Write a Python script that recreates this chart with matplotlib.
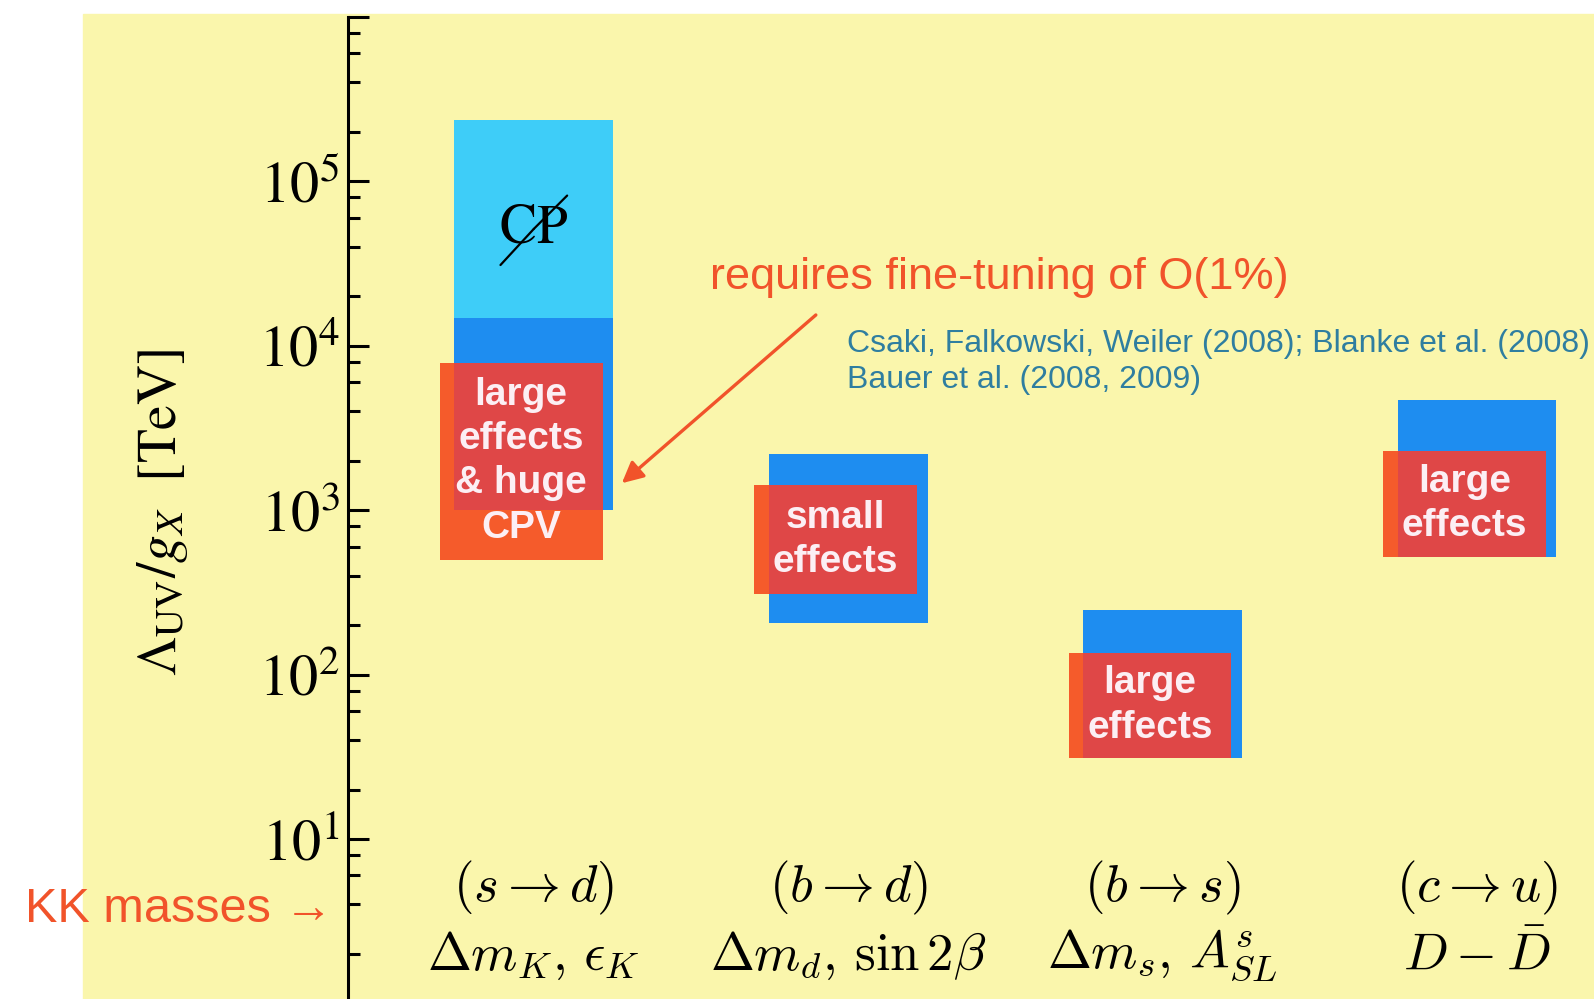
import numpy as np
import matplotlib
matplotlib.use("Agg")
import matplotlib.pyplot as plt
from matplotlib.patches import Rectangle
from matplotlib.ticker import LogLocator, NullFormatter

plt.rcParams['mathtext.fontset'] = 'stix'
plt.rcParams['font.family'] = ['Liberation Sans', 'DejaVu Sans']

# data (TeV)
transitions = [r'$(s \rightarrow d)$', r'$(b \rightarrow d)$', r'$(b \rightarrow s)$', r'$(c \rightarrow u)$']
observables = [r'$\Delta m_K,\,\epsilon_K$', r'$\Delta m_d,\,\sin 2\beta$',
               r'$\Delta m_s,\,A^s_{SL}$', r'$D - \bar{D}$']
blue_lo = [1000, 206, 31, 518]
blue_hi = [14800, 2200, 248, 4670]
cpv_hi = 236000          # light blue part, kaon only
orange_lo = [500, 308, 31, 518]
orange_hi = [7900, 1420, 136, 2290]
effects = ['large\neffects\n& huge\nCPV', 'small\neffects', 'large\neffects', 'large\neffects']

yellow = '#FAF6AC'
blue = '#1E8DF0'
light_blue = '#3ECDF8'
orange = '#F55B2B'
red = '#DF4747'
txt_orange = '#F1532A'
teal = '#2F7EA0'

fig = plt.figure(figsize=(15.94, 9.99), dpi=100)
fig.patches.append(Rectangle((83/1594, 0), 1, 1 - 14/999, transform=fig.transFigure,
                             color=yellow, zorder=-5))
ax = fig.add_axes([348/1594, 0, 1 - 348/1594, 1 - 17/999])
ax.set_zorder(1)
ax.set_facecolor('none')

x = np.arange(len(transitions))
bw = 0.505
ow = 0.518
oshift = -0.04

# kaon CP-violating part
ax.bar(x[0], cpv_hi - blue_hi[0], bottom=blue_hi[0], width=bw, color=light_blue, zorder=2)
ax.bar(x, np.array(blue_hi) - np.array(blue_lo), bottom=blue_lo, width=bw, color=blue, zorder=2)
ax.bar(x + oshift, np.array(orange_hi) - np.array(orange_lo), bottom=orange_lo, width=ow,
       color=orange, zorder=3)

# overlap of orange and blue is drawn red
for i in range(len(x)):
    left = max(x[i] - bw/2, x[i] + oshift - ow/2)
    right = min(x[i] + bw/2, x[i] + oshift + ow/2)
    lo = max(blue_lo[i], orange_lo[i])
    hi = min(blue_hi[i], orange_hi[i])
    ax.bar(left, hi - lo, bottom=lo, width=right - left, align='edge', color=red, zorder=4)
    ax.text(x[i] + oshift, np.sqrt(orange_lo[i]*orange_hi[i]), effects[i], ha='center', va='center',
            color='#FCEFF4', fontsize=28, fontweight='bold', linespacing=1.3, zorder=5)

# CP with slash
ycp = np.sqrt(blue_hi[0]*cpv_hi) * 0.87
ax.text(x[0], ycp, r'$\mathrm{CP}$', ha='center', va='center', fontsize=40, zorder=5)
ax.annotate('', xy=(x[0], ycp), xytext=(-24, -26), textcoords='offset points', zorder=6,
            arrowprops=dict(arrowstyle='-', color='black', lw=1.6, shrinkA=0, shrinkB=0))
ax.annotate('', xy=(x[0], ycp), xytext=(24, 24), textcoords='offset points', zorder=6,
            arrowprops=dict(arrowstyle='-', color='black', lw=1.6, shrinkA=0, shrinkB=0))

for i in range(len(x)):
    ax.text(x[i], 0.113, transitions[i], transform=ax.get_xaxis_transform(), ha='center',
            va='center', fontsize=38, math_fontfamily='cm')
    ax.text(x[i], 0.044, observables[i], transform=ax.get_xaxis_transform(), ha='center',
            va='center', fontsize=38, math_fontfamily='cm')

ax.text(0.56, 2.6e4, 'requires fine-tuning of O(1%)', color=txt_orange, fontsize=32.5,
        ha='left', va='center')
ax.annotate('', xy=(0.28, 1460), xytext=(0.897, 1.54e4),
            arrowprops=dict(arrowstyle='-|>', color=txt_orange, lw=2.4, mutation_scale=32,
                            shrinkA=0, shrinkB=0))
ax.text(0.996, 8.0e3, 'Csaki, Falkowski, Weiler (2008); Blanke et al. (2008)\nBauer et al. (2008, 2009)',
        color=teal, fontsize=23, ha='left', va='center', linespacing=1.25)

fig.text(333/1594, 1 - 910/999, 'KK masses \u2192', color=txt_orange, fontsize=35,
         ha='right', va='center')

ax.set_yscale('log')
ax.set_ylim(1.064, 1e6)
ax.set_xlim(-0.591, 3.372)
ax.set_yticks([1e1, 1e2, 1e3, 1e4, 1e5, 1e6],
              [r'$10^{1}$', r'$10^{2}$', r'$10^{3}$', r'$10^{4}$', r'$10^{5}$', ''])
ax.yaxis.set_minor_locator(LogLocator(base=10, subs=[2, 4, 6, 8], numticks=20))
ax.yaxis.set_minor_formatter(NullFormatter())
ax.tick_params(axis='y', which='major', direction='in', length=15, width=2.2, labelsize=42, pad=6)
ax.tick_params(axis='y', which='minor', direction='in', length=8.5, width=2.2)
ax.set_xticks([])
for s in ['top', 'right', 'bottom']:
    ax.spines[s].set_visible(False)
ax.spines['left'].set_linewidth(2.2)

fig.text(163/1594, 1 - 512/999, r'$\Lambda_{\mathrm{UV}}/g_X\ \ [\mathrm{TeV}]$', rotation=90,
         ha='center', va='center', fontsize=40)

fig.savefig('out.png', dpi=100)
